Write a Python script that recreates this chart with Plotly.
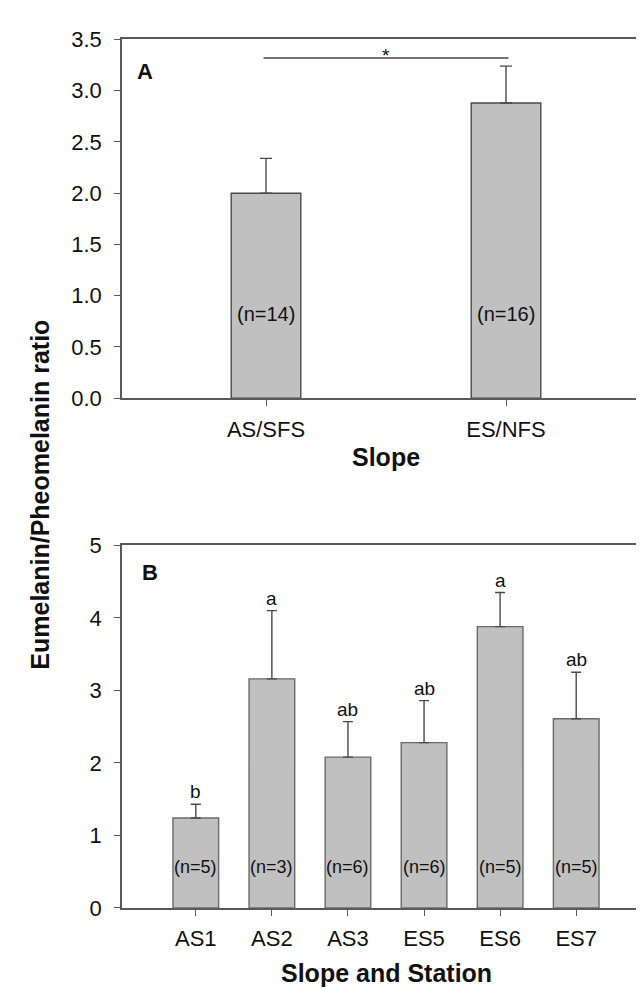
import plotly.graph_objects as go

# Panel A data
slopes = ["AS/SFS", "ES/NFS"]
slope_means = [2.00, 2.88]
slope_se = [0.34, 0.36]
slope_n = ["(n=14)", "(n=16)"]

# Panel B data
stations = ["AS1", "AS2", "AS3", "ES5", "ES6", "ES7"]
station_means = [1.24, 3.16, 2.08, 2.28, 3.88, 2.61]
station_se = [0.19, 0.94, 0.49, 0.58, 0.47, 0.64]
station_n = ["(n=5)", "(n=3)", "(n=6)", "(n=6)", "(n=5)", "(n=5)"]
station_letters = ["b", "a", "ab", "ab", "a", "ab"]

W, H = 644, 990
FONT = "Liberation Sans, Arial, sans-serif"
TXT = "#111111"
BAR_FILL = "#c0c0c0"
EDGE = "#4a4a4a"
AXC = "#5a5a5a"

fig = go.Figure()

fig.add_trace(go.Bar(
    x=slopes, y=slope_means, width=0.29,
    marker=dict(color=BAR_FILL, line=dict(color=EDGE, width=1.4)),
    error_y=dict(type="data", symmetric=False, array=slope_se,
                 arrayminus=[0] * len(slope_se), color=EDGE, thickness=1.4, width=6),
    xaxis="x", yaxis="y", showlegend=False, hoverinfo="skip"))

fig.add_trace(go.Bar(
    x=stations, y=station_means, width=0.6,
    marker=dict(color=BAR_FILL, line=dict(color="#6a6a6a", width=1.4)),
    error_y=dict(type="data", symmetric=False, array=station_se,
                 arrayminus=[0] * len(station_se), color=EDGE, thickness=1.4, width=5),
    xaxis="x2", yaxis="y2", showlegend=False, hoverinfo="skip"))


def px_x(p):
    return p / W


def px_y(p):
    return 1 - p / H


def axis_common(standoff):
    return dict(showline=True, linecolor=AXC, linewidth=1.6, mirror=True,
                ticks="outside", ticklen=6, tickcolor=AXC, tickwidth=1.4,
                showgrid=False, zeroline=False, ticklabelstandoff=standoff,
                tickfont=dict(family=FONT, size=22, color=TXT))


fig.update_layout(
    width=W, height=H, margin=dict(l=0, r=0, t=0, b=0),
    paper_bgcolor="white", plot_bgcolor="white",
    font=dict(family=FONT, color=TXT),
    xaxis=dict(domain=[px_x(114), px_x(642)], anchor="y", range=[-0.6, 1.6],
               type="category", **axis_common(5)),
    yaxis=dict(domain=[px_y(388), px_y(20)], anchor="x", range=[0, 3.5],
               tickvals=[0, 0.5, 1, 1.5, 2, 2.5, 3, 3.5],
               ticktext=["0.0", "0.5", "1.0", "1.5", "2.0", "2.5", "3.0", "3.5"],
               **axis_common(8)),
    xaxis2=dict(domain=[px_x(114), px_x(642)], anchor="y2", range=[-0.97, 5.97],
                type="category", **axis_common(4)),
    yaxis2=dict(domain=[px_y(911), px_y(539)], anchor="x2", range=[0, 5],
                tickvals=[0, 1, 2, 3, 4, 5],
                **axis_common(8)),
)

ann = []
# panel labels
ann.append(dict(text="<b>A</b>", x=px_x(127), y=px_y(53), xref="paper", yref="paper",
                xanchor="left", yanchor="middle", showarrow=False,
                font=dict(size=22, family=FONT, color=TXT)))
ann.append(dict(text="<b>B</b>", x=px_x(132), y=px_y(567), xref="paper", yref="paper",
                xanchor="left", yanchor="middle", showarrow=False,
                font=dict(size=22, family=FONT, color=TXT)))
# axis titles
ann.append(dict(text="<b>Eumelanin/Pheomelanin ratio</b>", x=px_x(32), y=px_y(487),
                xref="paper", yref="paper", textangle=-90, showarrow=False,
                xanchor="center", yanchor="middle",
                font=dict(size=25, family=FONT, color=TXT)))
ann.append(dict(text="<b>Slope</b>", x=px_x(378), y=px_y(448),
                xref="paper", yref="paper", showarrow=False,
                xanchor="center", yanchor="middle",
                font=dict(size=25, family=FONT, color=TXT)))
ann.append(dict(text="<b>Slope and Station</b>", x=px_x(378), y=px_y(978),
                xref="paper", yref="paper", showarrow=False,
                xanchor="center", yanchor="middle",
                font=dict(size=25, family=FONT, color=TXT)))
# n labels A
for c, n in zip(slopes, slope_n):
    ann.append(dict(text=n, x=c, y=0.82, xref="x", yref="y", showarrow=False,
                    font=dict(size=20, family=FONT, color=TXT)))
# n labels B
for c, n in zip(stations, station_n):
    ann.append(dict(text=n, x=c, y=0.56, xref="x2", yref="y2", showarrow=False,
                    font=dict(size=18, family=FONT, color=TXT)))
# letters B
for c, m, s, l in zip(stations, station_means, station_se, station_letters):
    ann.append(dict(text=l, x=c, y=m + s, xref="x2", yref="y2", showarrow=False,
                    yanchor="bottom", yshift=0,
                    font=dict(size=19, family=FONT, color=TXT)))
# significance star
ann.append(dict(text="*", x=0.5, y=3.32, xref="x", yref="y", showarrow=False,
                yanchor="bottom", yshift=-10,
                font=dict(size=19, family=FONT, color=TXT)))
fig.update_layout(annotations=ann)

fig.add_shape(type="line", xref="x", yref="y", x0=-0.01, x1=1.01, y0=3.32, y1=3.32,
              line=dict(color="#444444", width=1.6))

fig.write_html("out.html")
